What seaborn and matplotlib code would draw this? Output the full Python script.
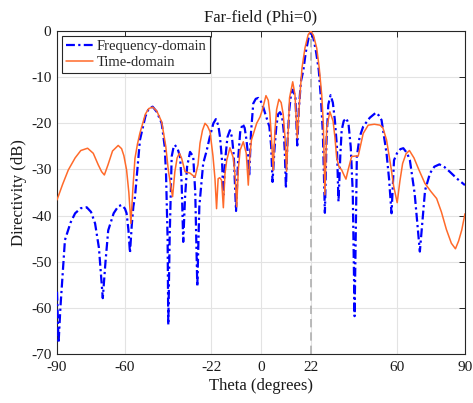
import numpy as np
import pandas as pd
import matplotlib
matplotlib.use("Agg")
import matplotlib.pyplot as plt
import seaborn as sns

freq_theta = [-90, -89.3, -88.5, -86.5, -84, -82, -79.5, -76.9, -75, -73.2, -71.5, -69.8, -68.6, -67.4,
              -65, -63, -61.5, -60, -59.3, -58.5, -57.8, -57, -56.3, -55.6, -53.4, -51, -49.5, -47.8,
              -46, -43.8, -42.5, -41.9, -41.2, -40.9, -40.3, -39.4, -38.5, -38, -36.8, -35.7, -35,
              -34.3, -33.5, -32.6, -31.3, -29.9, -29, -28.1, -27.2, -25.5, -24, -22.5, -21, -19.9,
              -18.8, -18.1, -17.2, -16.6, -15.8, -14.8, -13.7, -12.8, -12, -11, -10.1, -9.2, -8.1,
              -7.2, -6.4, -5.7, -5.2, -4.4, -3.4, -2.3, -1.2, 0, 1.0, 1.8, 3.7, 4.5, 5.1, 5.9, 6.8,
              7.6, 8.4, 9.3, 10.0, 10.5, 11.0, 11.6, 12.5, 13.3, 14.1, 15.2, 16.0, 16.7, 17.6, 18.7,
              19.8, 21, 22, 23.1, 24.3, 25.5, 26.5, 27.3, 28.2, 28.9, 29.7, 30.7, 31.7, 32.6, 33.5,
              34.2, 35, 35.6, 36.5, 37.6, 38.6, 39.6, 40.5, 41.3, 42.1, 42.3, 43.5, 45.1, 48, 50.7,
              52, 53.2, 55.4, 56.5, 57.6, 58.7, 60, 61.5, 62.8, 64.5, 65.7, 67.8, 70.1, 72.4, 74.6,
              76.5, 78.7, 81, 83.3, 86.5, 90]
freq_db = [-56.5, -67.6, -60, -45.3, -41.5, -39.5, -38.4, -38.2, -39.2, -41.7, -47, -57.9, -50, -43.2,
           -39.5, -38, -37.7, -38.5, -39.5, -43, -48.1, -42, -38, -36, -23.6, -18.5, -16.8, -16.4,
           -17.5, -20, -25, -30.8, -45, -63.7, -45, -27.2, -25, -24.7, -25.5, -27.2, -33,
           -45.7, -36, -29.4, -26.2, -27.2, -35, -55.4, -38, -28.7, -26, -22.8, -20, -19.1,
           -20.5, -22.9, -28, -35.5, -28, -23, -21.5, -23, -27, -39, -28, -22, -20.1,
           -21, -23.6, -27, -31.5, -22, -15.7, -14.7, -14.5, -15.3, -16.5, -17.8, -20.7, -25, -32.7, -26, -20.5,
           -18, -17.6, -18.5, -21.5, -26, -34.1, -25, -17, -13.5, -12.7, -14.5, -24.8, -17, -11, -8.5,
           -4.5, -1.5, 0, -1.5, -4.5, -8.5, -15, -22, -39.4, -24, -16, -13.9, -15.5, -19.3, -25,
           -37, -27, -21.5, -19.5, -18.9, -20, -25.1, -35, -61.8, -35, -27.2, -23, -20.7, -18.8, -17.7,
           -18.3, -19.3, -26.5, -32, -39.5, -28, -26.5, -25.6, -25.4, -26.5, -28, -35.2, -47.8, -34.5, -30.8,
           -29.4, -28.9, -29.5, -30.5, -32, -33.4]

time_theta = [-90, -87.5, -85, -82, -79.5, -76.5, -74, -71.8, -70.3, -69.1, -67.5, -65.5, -63, -61.5,
              -60.5, -59.3, -58.3, -57.4, -56.5, -55.6, -54.5, -53.4, -51, -49.5, -47.8, -46, -43.8,
              -42, -40.9, -40, -39, -38, -37, -36, -35, -33.5, -31.3, -29.1, -27.8, -26.9, -25.8,
              -24.7, -23.6, -22.5, -21.2, -20.3, -19.6, -18.9, -18.2, -17.4, -16.6, -15.9, -15.1,
              -13.7, -12.2, -11.3, -10.7, -10, -9.2, -7.8, -6.5, -5.6, -4.9, -4.2, -1.9, -0.4, 0.6,
              2.2, 3.2, 3.9, 4.6, 5.4, 6.1, 6.9, 7.9, 8.9, 9.8, 10.6, 11.3, 12.0, 12.6, 14.0, 15.0,
              16.0, 17.2, 18.1, 19.4, 20.8, 22, 23.2, 24.6, 25.7, 26.8, 27.5, 28.2, 29, 30.4, 31.8,
              32.6, 33.4, 34.4, 35.6, 36.6, 37.5, 38.5, 40, 41.5, 42.9, 44.5, 45.1, 47.3, 50, 52.5,
              53.8, 55.4, 57.5, 58.5, 60.1, 61.3, 62.5, 64, 65.5, 67.5, 69.7, 72.3, 75, 77.5, 79.6,
              81.8, 84, 85.8, 87.2, 88.6, 90]
time_db = [-36.6, -33.2, -30.1, -27.5, -25.9, -25.4, -26.5, -29, -30.5, -31.2, -29, -26, -24.8, -25.5,
           -27, -30.1, -35, -41.7, -34, -27.6, -24.5, -22.1, -18, -16.8, -16.5, -17.3, -19.7,
           -25, -30.1, -33, -35.9, -30.5, -27.5, -26.5, -27.6, -30.5, -30.8, -31.7, -29, -24.3, -21.5,
           -20, -20.6, -21.8, -27, -32, -38.5, -32, -31.8, -32.3, -38.3, -31, -28,
           -25.3, -27.5, -32, -38.1, -30, -25.8, -24, -26.5, -33.4, -27, -23.6, -20, -18.6, -17.1,
           -14, -15, -17.8, -23, -30.2, -22, -17, -14.8, -15.5, -18, -23, -30.4, -22, -14.5, -11, -13.8,
           -23.2, -13.8, -8, -3.7, -0.8, 0, -1, -3.7, -8, -13.8, -20, -35.5, -21, -17.5, -19.5,
           -22.9, -27.5, -29.4, -30.1, -31.2, -32.1, -30, -27.2, -27.1, -27.1, -23.5, -22.2, -20.4, -20.2, -20.4,
           -21, -23.6, -30, -33.5, -37.2, -32.5, -28.7, -26.6, -25.9, -27.5, -30.1, -33, -34.8, -36.3, -39.2,
           -43, -46, -47.2, -45.5, -43.1, -39.6]

x_ticks = [-90, -60, -22, 0, 22, 60, 90]
y_ticks = [-70, -60, -50, -40, -30, -20, -10, 0]
peak_theta = 22

sns.set_style("white")
plt.rcParams['font.family'] = ['Liberation Serif', 'DejaVu Serif']
plt.rcParams['mathtext.fontset'] = 'stix'

fig = plt.figure(figsize=(4.73, 4.03), dpi=100)
ax = fig.add_axes([0.1205, 0.1216, 0.8625, 0.8014])

df_f = pd.DataFrame({"theta": freq_theta, "db": freq_db})
df_t = pd.DataFrame({"theta": time_theta, "db": time_db})

ax.axvline(peak_theta, color="#B0B0B0", linestyle=(0, (5, 3)), linewidth=1.2, zorder=1)
sns.lineplot(data=df_f, x="theta", y="db", ax=ax, sort=False, color="#0000FF",
             linewidth=1.6, linestyle=(0, (4, 1.5, 1, 1.5)), label="Frequency-domain", zorder=3)
sns.lineplot(data=df_t, x="theta", y="db", ax=ax, sort=False, color="#FF6A2A",
             linewidth=1.1, label="Time-domain", zorder=4)

ax.set_xlim(-90, 90)
ax.set_ylim(-70, 0)
ax.set_xticks(x_ticks)
ax.set_yticks(y_ticks)
ax.set_xticklabels([str(v) for v in x_ticks])
ax.set_yticklabels([str(v) for v in y_ticks])
ax.grid(True, color="#E3E3E3", linewidth=0.8)
ax.set_axisbelow(True)
for s in ax.spines.values():
    s.set_color("#262626")
    s.set_linewidth(0.8)
ax.tick_params(direction="in", length=4, width=0.7, colors="#262626", labelsize=11,
               top=True, right=True, labelcolor="#1a1a1a")
ax.tick_params(axis="x", pad=5)
ax.tick_params(axis="y", pad=4)
ax.set_xlabel("Theta (degrees)", fontsize=12, color="#1a1a1a", labelpad=3)
ax.set_ylabel("Directivity (dB)", fontsize=12, color="#1a1a1a", labelpad=3)
ax.set_title("Far-field (Phi=0)", fontsize=12, color="#1a1a1a", pad=7)

leg = ax.legend(loc="upper left", fontsize=10.5, frameon=True, fancybox=False,
                edgecolor="#262626", framealpha=1, handlelength=1.9, handletextpad=0.2,
                borderpad=0.25, labelspacing=0.2, borderaxespad=0.35)
leg.get_frame().set_linewidth(0.8)

fig.savefig("out.png", dpi=100)
